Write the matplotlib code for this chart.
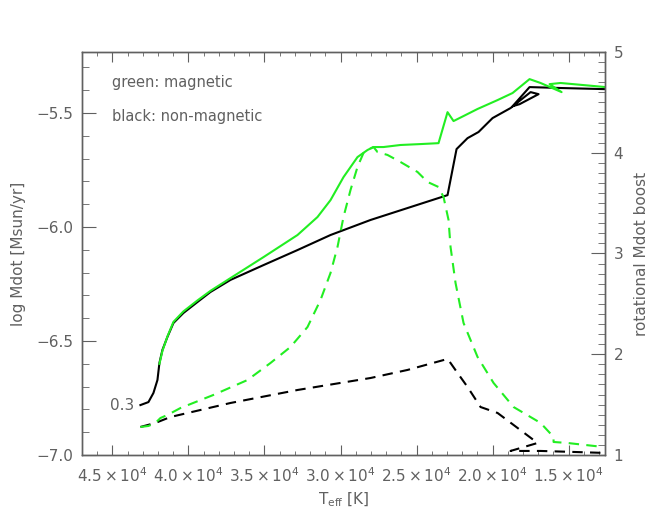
import matplotlib
matplotlib.use('Agg')
import matplotlib.pyplot as plt
from matplotlib.ticker import FixedLocator, MultipleLocator

plt.rcParams['font.family'] = 'DejaVu Sans'
plt.rcParams['mathtext.default'] = 'regular'

GRAY = '#606060'
GREEN = '#22ee22'

# non-magnetic, log Mdot (left axis)
t_black = [43158, 42632, 42303, 42039, 41908, 41711, 41382, 40987, 40329, 39408,
           38553, 37237, 35066, 32829, 30658, 28026, 22961, 22368, 21645, 20921,
           20000, 18816, 17500, 16974, 18224, 18684, 17566, 15526, 12566]
mdot_black = [-6.781, -6.768, -6.728, -6.671, -6.596, -6.539, -6.482, -6.421, -6.377, -6.329,
              -6.285, -6.232, -6.167, -6.101, -6.035, -5.969, -5.860, -5.658, -5.610, -5.583,
              -5.522, -5.478, -5.408, -5.417, -5.461, -5.470, -5.386, -5.390, -5.395]

# magnetic, log Mdot (left axis)
t_green = [41908, 41711, 41382, 40987, 40329, 39408, 38553, 37237, 35066, 32829,
           31513, 30658, 29803, 28882, 28224, 27829, 27171, 26053, 24737, 23553,
           22961, 22566, 21908, 20987, 19671, 18684, 17566, 16842, 15461, 16250,
           15526, 12566]
mdot_green = [-6.600, -6.543, -6.480, -6.416, -6.370, -6.322, -6.280, -6.224, -6.132, -6.035,
              -5.956, -5.882, -5.781, -5.693, -5.662, -5.649, -5.649, -5.640, -5.636, -5.632,
              -5.496, -5.535, -5.513, -5.482, -5.443, -5.412, -5.351, -5.368, -5.408, -5.373,
              -5.368, -5.386]

# magnetic, rotational boost (right axis)
t_green_b = [43158, 42632, 42171, 41842, 41382, 40526, 38355, 36118, 34605, 33289,
             32171, 31316, 30658, 30197, 29803, 29342, 28882, 28487, 28224, 27829,
             27566, 26908, 26053, 24934, 24276, 23553, 23224, 22895, 22763, 22434,
             21908, 20987, 19934, 18618, 16842, 15987, 15987, 15066, 12697]
boost_green = [1.278, 1.288, 1.318, 1.367, 1.397, 1.466, 1.596, 1.744, 1.913, 2.072,
               2.270, 2.538, 2.806, 3.065, 3.362, 3.630, 3.859, 3.998, 4.027, 4.057,
               4.007, 3.978, 3.908, 3.809, 3.710, 3.660, 3.561, 3.333, 3.065, 2.707,
               2.310, 1.973, 1.715, 1.476, 1.318, 1.179, 1.129, 1.119, 1.079]

# non-magnetic, rotational boost (right axis)
t_black_b = [43158, 42171, 41184, 37237, 32829, 28026, 25592, 22961, 22763, 22303,
             21645, 20789, 19671, 18618, 17039, 18816, 16842, 14671, 12566]
boost_black = [1.278, 1.318, 1.377, 1.516, 1.645, 1.764, 1.844, 1.953, 1.913, 1.814,
               1.675, 1.476, 1.417, 1.298, 1.119, 1.040, 1.040, 1.030, 1.020]

xticks = [45000, 40000, 35000, 30000, 25000, 20000, 15000]
xticklabels = [r'$4.5\times10^{4}$', r'$4.0\times10^{4}$', r'$3.5\times10^{4}$',
               r'$3.0\times10^{4}$', r'$2.5\times10^{4}$', r'$2.0\times10^{4}$',
               r'$1.5\times10^{4}$']

fig = plt.figure(figsize=(6.53, 5.22), dpi=100)
ax = fig.add_axes([0.1256, 0.1284, 0.801, 0.772])
ax2 = ax.twinx()

ax.plot(t_black, mdot_black, color='black', lw=1.5)
ax.plot(t_green, mdot_green, color=GREEN, lw=1.5)
ax2.plot(t_black_b, boost_black, color='black', lw=1.5, ls=(0, (5, 3.5)))
ax2.plot(t_green_b, boost_green, color=GREEN, lw=1.5, ls=(0, (5, 3.5)))

ax.set_xlim(47000, 12600)
ax.set_ylim(-7.0, -5.232)
ax2.set_ylim(1, 5)

ax.xaxis.set_major_locator(FixedLocator(xticks))
ax.set_xticklabels(xticklabels)
ax.xaxis.set_minor_locator(MultipleLocator(1000))
ax.yaxis.set_minor_locator(MultipleLocator(0.1))
ax.set_yticks([-7.0, -6.5, -6.0, -5.5])
ax.set_yticklabels(['\u22127.0', '\u22126.5', '\u22126.0', '\u22125.5'])
ax2.yaxis.set_major_locator(MultipleLocator(1))
ax2.yaxis.set_minor_locator(MultipleLocator(0.1))

for a in (ax, ax2):
    for s in a.spines.values():
        s.set_color(GRAY)
        s.set_linewidth(1.0)
ax.tick_params(axis='x', which='both', direction='in', top=True, colors=GRAY,
               labelcolor=GRAY, labelsize=11, pad=8)
ax.tick_params(axis='x', which='major', length=7)
ax.tick_params(axis='x', which='minor', length=3)
ax.tick_params(axis='y', which='both', direction='in', colors=GRAY,
               labelcolor=GRAY, labelsize=11, pad=6)
ax.tick_params(axis='y', which='major', length=10)
ax.tick_params(axis='y', which='minor', length=5)
ax2.tick_params(axis='y', which='both', direction='in', colors=GRAY,
                labelcolor=GRAY, labelsize=11, pad=6)
ax2.tick_params(axis='y', which='major', length=10)
ax2.tick_params(axis='y', which='minor', length=5)

ax.set_xlabel(r'T$_{\rm eff}$ [K]', color=GRAY, fontsize=11, labelpad=4)
ax.set_ylabel('log Mdot [Msun/yr]', color=GRAY, fontsize=11, labelpad=8)
ax2.set_ylabel('rotational Mdot boost', color=GRAY, fontsize=11, labelpad=8)

ax.text(0.057, 0.925, 'green: magnetic', transform=ax.transAxes, color=GRAY,
        fontsize=10.5, va='center')
ax.text(0.057, 0.839, 'black: non-magnetic', transform=ax.transAxes, color=GRAY,
        fontsize=10.5, va='center')
ax.text(43550, -6.781, '0.3', color=GRAY, fontsize=11, ha='right', va='center')

fig.savefig('out.png', dpi=100)
